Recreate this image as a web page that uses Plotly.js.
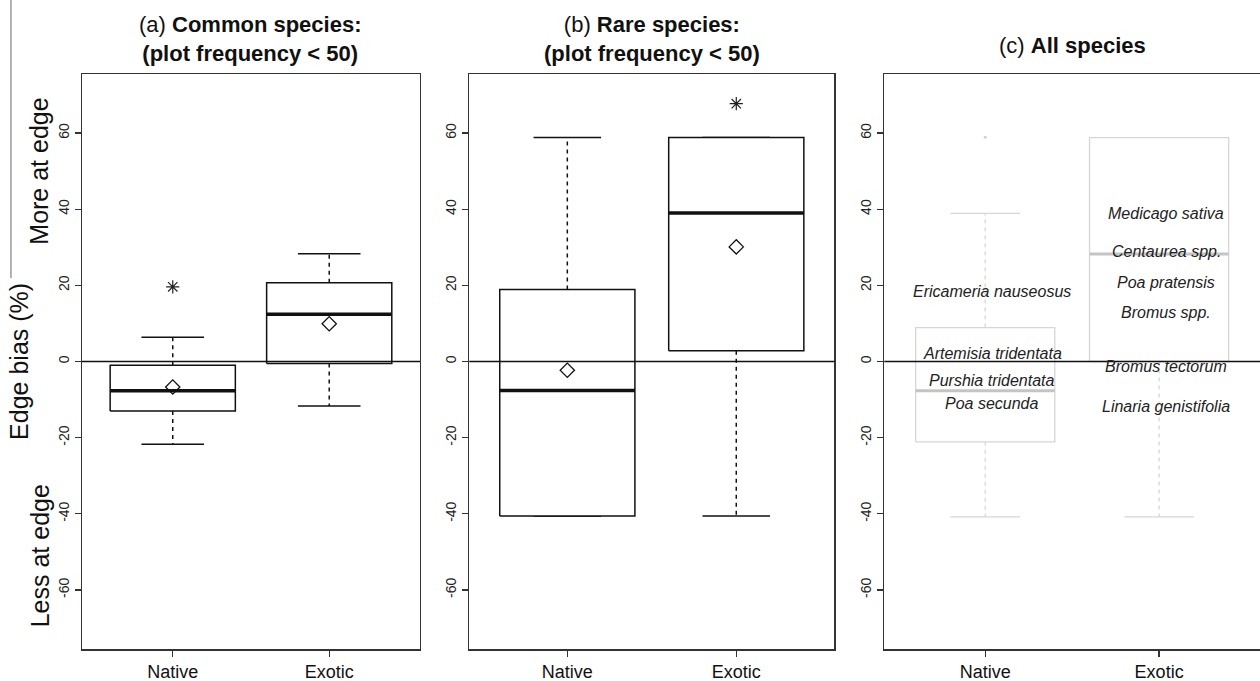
<!DOCTYPE html>
<html>
<head>
<meta charset="utf-8">
<script src="https://cdn.plot.ly/plotly-3.0.1.min.js"></script>
<style>html,body{margin:0;padding:0;background:#fff;}#chart{width:1260px;height:681px;}</style>
</head>
<body>
<div id="chart"></div>
<script>
// ---------- data ----------
var groups = ['Native', 'Exotic'];
var yTicks = [-60, -40, -20, 0, 20, 40, 60];
var yTickText = ['-60', '-40', '-20', '0', '20', '40', '60'];

// (a) Common species
var aLower  = [-21.7, -11.7];
var aQ1     = [-13.0, -0.5];
var aMedian = [-7.7, 12.4];
var aQ3     = [-1.0, 20.7];
var aUpper  = [6.4, 28.3];
var aMean   = [-6.7, 9.9];
var aOutlier = [19.6, null];

// (b) Rare species
var bLower  = [-40.6, -40.6];
var bQ1     = [-40.6, 2.8];
var bMedian = [-7.6, 39.0];
var bQ3     = [18.9, 58.8];
var bUpper  = [58.8, 58.8];
var bMean   = [-2.3, 30.1];
var bOutlier = [null, 67.7];

// (c) All species
var cLower  = [-40.8, -40.8];
var cQ1     = [-21.1, 0.0];
var cMedian = [-7.7, 28.2];
var cQ3     = [8.9, 58.8];
var cUpper  = [38.9, 58.8];
var cOutlier = [58.9, null];

var species = ['Ericameria nauseosus', 'Artemisia tridentata', 'Purshia tridentata', 'Poa secunda',
               'Medicago sativa', 'Centaurea spp.', 'Poa pratensis', 'Bromus spp.', 'Bromus tectorum', 'Linaria genistifolia'];
var speciesGroup = ['Native', 'Native', 'Native', 'Native', 'Exotic', 'Exotic', 'Exotic', 'Exotic', 'Exotic', 'Exotic'];
var speciesValue = [18.3, 2.0, -4.9, -11.0, 38.9, 28.8, 20.7, 12.8, -1.2, -11.9];

var titles = ['(a) <b>Common species:</b><br><b>(plot frequency &lt; 50)</b>',
              '(b) <b>Rare species:</b><br><b>(plot frequency &lt; 50)</b>',
              '(c) <b>All species</b>'];

var sideLabels = ['More at edge', 'Edge bias (%)', 'Less at edge'];
var sideLabelValue = [50, 0, -51];

// ---------- drawing helpers ----------
var FONT = 'Liberation Sans, Arial, Helvetica, sans-serif';
var traces = [];
var HALF = 0.4, CAP = 0.2;

function boxPlot(xa, ya, lo, q1, med, q3, hi, col, medCol, lw, medW) {
  var wx = [], wy = [], cx = [], cy = [], rx = [], ry = [], mx = [], my = [];
  groups.forEach(function (g, i) {
    var p = i + 1;
    wx.push(p, p, null, p, p, null);
    wy.push(q3[i], hi[i], null, q1[i], lo[i], null);
    cx.push(p - CAP, p + CAP, null, p - CAP, p + CAP, null);
    cy.push(hi[i], hi[i], null, lo[i], lo[i], null);
    rx.push(p - HALF, p + HALF, p + HALF, p - HALF, p - HALF, null);
    ry.push(q1[i], q1[i], q3[i], q3[i], q1[i], null);
    mx.push(p - HALF, p + HALF, null);
    my.push(med[i], med[i], null);
  });
  traces.push({x: wx, y: wy, xaxis: xa, yaxis: ya, mode: 'lines', hoverinfo: 'skip',
               line: {color: col, width: lw, dash: '4px,4px'}});
  traces.push({x: cx, y: cy, xaxis: xa, yaxis: ya, mode: 'lines', hoverinfo: 'skip',
               line: {color: col, width: lw}});
  traces.push({x: rx, y: ry, xaxis: xa, yaxis: ya, mode: 'lines', fill: 'toself', fillcolor: 'rgba(255,255,255,1)',
               hoverinfo: 'skip', line: {color: col, width: lw}});
  traces.push({x: mx, y: my, xaxis: xa, yaxis: ya, mode: 'lines', hoverinfo: 'skip',
               line: {color: medCol, width: medW}});
}
function points(xa, ya, vals, symbol, size, col, w) {
  var xs = [], ys = [];
  groups.forEach(function (g, i) { if (vals[i] !== null) { xs.push(i + 1); ys.push(vals[i]); } });
  traces.push({x: xs, y: ys, xaxis: xa, yaxis: ya, mode: 'markers', hoverinfo: 'y',
               marker: {symbol: symbol, size: size, color: col, line: {color: col, width: w}}});
}

boxPlot('x', 'y', aLower, aQ1, aMedian, aQ3, aUpper, '#111', '#111', 1.5, 3.5);
points('x', 'y', aMean, 'diamond-open', 11, '#111', 1.3);
points('x', 'y', aOutlier, 'asterisk-open', 11, '#222', 1.2);

boxPlot('x2', 'y2', bLower, bQ1, bMedian, bQ3, bUpper, '#111', '#111', 1.5, 3.5);
points('x2', 'y2', bMean, 'diamond-open', 11, '#111', 1.3);
points('x2', 'y2', bOutlier, 'asterisk-open', 11, '#222', 1.2);

boxPlot('x3', 'y3', cLower, cQ1, cMedian, cQ3, cUpper, '#d6d6d6', '#c4c4c4', 1.3, 3);
points('x3', 'y3', cOutlier, 'circle', 3, '#d0d0d0', 0);

// ---------- layout ----------
function xAxis(domain, anchor) {
  return {domain: domain, anchor: anchor, range: [0.42, 2.58], tickmode: 'array', tickvals: [1, 2], ticktext: groups,
          showline: true, mirror: true, linecolor: '#333', linewidth: 1.5, ticks: 'outside', ticklen: 6,
          tickcolor: '#333', tickwidth: 1.3, tickfont: {family: FONT, size: 18, color: '#111'},
          ticklabelstandoff: 0, showgrid: false, zeroline: false, fixedrange: true};
}
function yAxis(anchor) {
  return {anchor: anchor, range: [-75.5, 75.5], tickmode: 'array', tickvals: yTicks, ticktext: yTickText, tickangle: -90,
          showline: true, mirror: true, linecolor: '#333', linewidth: 1.5, ticks: 'outside', ticklen: 6,
          tickcolor: '#333', tickwidth: 1.3, tickfont: {family: FONT, size: 14, color: '#222'},
          ticklabelstandoff: 0, showgrid: false, zeroline: false, fixedrange: true};
}

var annotations = [];
var xrefs = ['x domain', 'x2 domain', 'x3 domain'];
titles.forEach(function (t, i) {
  annotations.push({text: t, xref: xrefs[i], x: 0.5, xanchor: 'center', yref: 'paper', y: 1, yanchor: 'bottom',
                    yshift: i === 2 ? 14 : 6, showarrow: false, align: 'center',
                    font: {family: FONT, size: 22, color: '#111'}});
});
species.forEach(function (s, i) {
  annotations.push({text: '<i>' + s + '</i>', xref: 'x3', yref: 'y3', x: groups.indexOf(speciesGroup[i]) + 1,
                    y: speciesValue[i], xshift: 7, showarrow: false,
                    font: {family: FONT, size: 16, color: '#222'}});
});
sideLabels.forEach(function (l, i) {
  annotations.push({text: l, xref: 'paper', x: i === 1 ? -0.054 : -0.036, xanchor: 'center',
                    yref: 'y', y: sideLabelValue[i], yanchor: 'middle', textangle: -90,
                    showarrow: false, font: {family: FONT, size: 25, color: '#111'}});
});

var shapes = ['x domain', 'x2 domain', 'x3 domain'].map(function (xr, i) {
  return {type: 'line', layer: 'above', xref: xr, x0: 0, x1: 1, yref: ['y', 'y2', 'y3'][i], y0: 0, y1: 0,
          line: {color: '#111', width: 1.5}};
});
shapes.push({type: 'line', xref: 'paper', yref: 'paper', x0: -0.0603, x1: -0.0603, y0: 0.645, y1: 1.13,
             line: {color: '#666', width: 1}});

var layout = {
  width: 1260, height: 681,
  margin: {l: 82, r: 0, t: 74, b: 32},
  paper_bgcolor: '#fff', plot_bgcolor: '#fff',
  showlegend: false,
  font: {family: FONT},
  xaxis: xAxis([0, 0.2869], 'y'),
  yaxis: yAxis('x'),
  xaxis2: xAxis([0.3288, 0.6386], 'y2'),
  yaxis2: yAxis('x2'),
  xaxis3: xAxis([0.6811, 1], 'y3'),
  yaxis3: yAxis('x3'),
  annotations: annotations,
  shapes: shapes
};

Plotly.newPlot('chart', traces, layout, {displayModeBar: false, staticPlot: true});
</script>
</body>
</html>
